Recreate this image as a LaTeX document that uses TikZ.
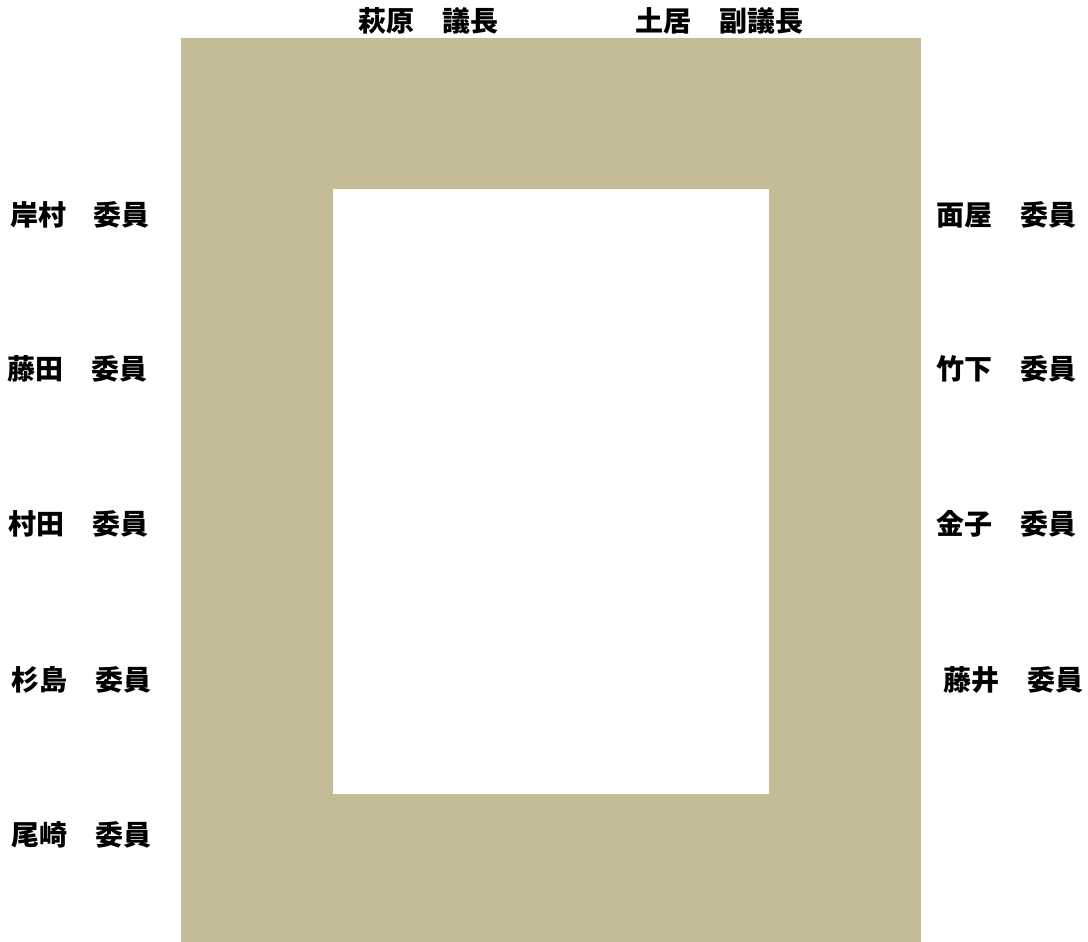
\documentclass[tikz,border=0pt]{standalone}
\usepackage{fontspec}
\newfontfamily\cjk{Noto Sans CJK JP}
\definecolor{tan}{HTML}{C4BC97}
\begin{document}
\begin{tikzpicture}[x=1pt,y=-1pt,
  lbl/.style={font=\cjk\bfseries\fontsize{28}{30}\selectfont, inner sep=0pt, anchor=center}]
\useasboundingbox (0,0) rectangle (1088,942);
\fill[tan] (181,38) rectangle (921,942);
\fill[white] (333,189) rectangle (769,794);
\node[lbl] (hagiwara) at (428,21) {萩原　議長};
\node[lbl] (doi) at (719,21) {土居　副議長};
\node[lbl] (kishimura) at (80,215) {岸村　委員};
\node[lbl] (fujita) at (78,369) {藤田　委員};
\node[lbl] (murata) at (79,524) {村田　委員};
\node[lbl] (sugishima) at (82,680) {杉島　委員};
\node[lbl] (ozaki) at (82,835) {尾崎　委員};
\node[lbl] (omoya) at (1006,215) {面屋　委員};
\node[lbl] (takeshita) at (1006,369) {竹下　委員};
\node[lbl] (kaneko) at (1006,524) {金子　委員};
\node[lbl] (fujii) at (1013,680) {藤井　委員};
\end{tikzpicture}
\end{document}
